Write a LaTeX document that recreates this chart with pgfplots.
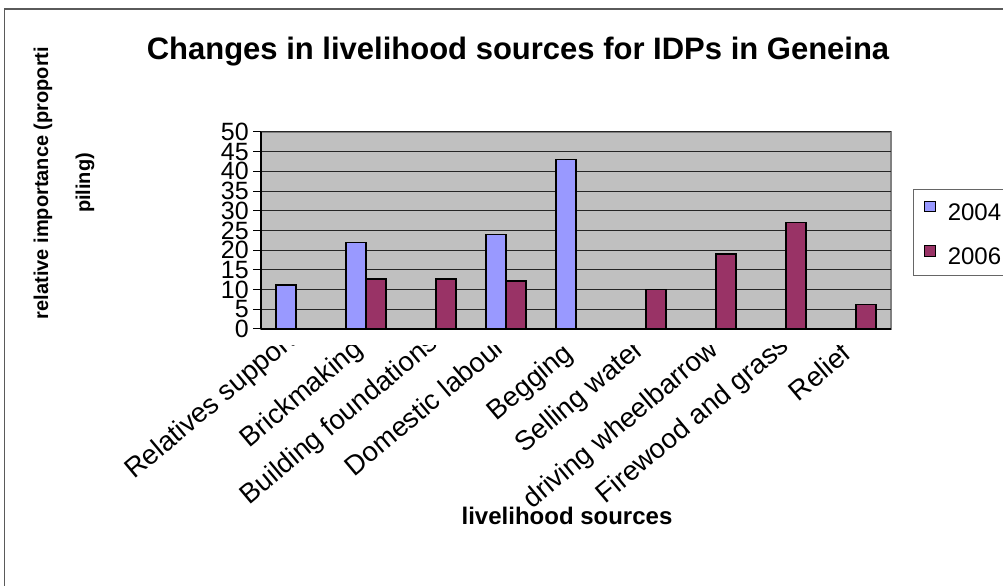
\documentclass[border=0pt]{standalone}
\usepackage{fontspec}
\setmainfont{Liberation Sans}
\usepackage{pgfplots}
\usepackage{pgfplotstable}
\pgfplotsset{compat=1.18}

\definecolor{bar04}{HTML}{9999FF}
\definecolor{bar06}{HTML}{993366}
\definecolor{plotbg}{HTML}{C0C0C0}
\definecolor{framegray}{HTML}{808080}

% category index and value (only the categories that have a bar)
\pgfplotstableread{
idx val
0 11.2
1 22
3 24
4 43
}\dataA
\pgfplotstableread{
idx val
1 12.7
2 12.7
3 12.2
5 10
6 19
7 27
8 6.2
}\dataB

% place a rotated category label: #1 across the baseline, #2 along it
\newcommand\lab[3]{\kern#2\raisebox{#1}{#3}}

\pgfplotsset{
  chartframe/.style={
    at={(261bp,257bp)}, anchor=south west,
    scale only axis, width=630bp, height=197bp,
    xmin=-0.5, xmax=8.5, ymin=0, ymax=50,
    tick align=outside,
    major tick length=8bp, minor tick length=8bp,
  }
}

\begin{document}
\begin{tikzpicture}[x=1bp,y=1bp]
\path[use as bounding box] (0,0) rectangle (1003,586);
\draw[framegray!70!black, line width=1.5bp] (4.5,-5) -- (4.5,577) -- (1010,577);

% category names first, so that the plot area and the band below the axis
% cut off the long ones
\begin{axis}[
  chartframe,
  axis line style={draw=none}, tick style={draw=none},
  ytick=\empty,
  xtick={0,...,8},
  xticklabels={
    \lab{-5.7bp}{-220.2bp}{Relatives support},
    \lab{-10.1bp}{-173bp}{Brickmaking},
    \lab{-8.9bp}{-255.4bp}{Building foundations},
    \lab{-10.2bp}{-214.8bp}{Domestic labour},
    \lab{-13.5bp}{-130.1bp}{Begging},
    \lab{-11.3bp}{-179.3bp}{Selling water},
    \lab{-14.2bp}{-259.9bp}{driving wheelbarrow},
    \lab{-12.1bp}{-251.6bp}{Firewood and grass},
    \lab{-13.2bp}{-102.4bp}{Relief}},
  xticklabel style={font=\fontsize{27.5bp}{27.5bp}\selectfont, inner sep=0pt, anchor=base west, rotate=40},
]
\end{axis}

\fill[white] (261,241) rectangle (940,257);

\begin{axis}[
  chartframe,
  ytick={0,5,...,50},
  xtick=\empty,
  minor xtick={-0.5,0.5,...,8.5},
  axis lines*=left,
  axis line style={black, line width=1.3bp},
  axis background/.style={fill=plotbg, draw=framegray, line width=1.3bp},
  ymajorgrids,
  major grid style={black!85, line width=1bp},
  minor x tick style={black, line width=1bp},
  ytick style={black, line width=1bp},
  /pgf/number format/assume math mode=true,
  yticklabel style={font=\fontsize{25bp}{25bp}\selectfont, inner sep=0pt, anchor=east, xshift=-4bp},
  ybar, bar width=20bp,
  legend image code/.code={\draw[#1, line width=1.2bp] (0bp,0bp) rectangle (11bp,10.5bp);},
  legend style={at={(axis description cs:1.0349,0.7107)}, anchor=north west,
    draw=framegray!80!black, line width=1.2bp, fill=white,
    inner xsep=10bp, inner ysep=11bp, row sep=25bp, column sep=12bp,
    font=\fontsize{24bp}{24bp}\selectfont,
    nodes={inner sep=0pt, text height=17bp, text depth=0bp}},
  legend cell align=left,
]
\addplot[fill=bar04, draw=black, line width=1.5bp, bar shift=-10bp] table[x=idx, y=val] {\dataA};
\addplot[fill=bar06, draw=black, line width=1.5bp, bar shift=10bp] table[x=idx, y=val] {\dataB};
\legend{2004, 2006}
\end{axis}

\node[font=\bfseries\fontsize{31bp}{31bp}\selectfont, anchor=base] at (518,526) {Changes in livelihood sources for IDPs in Geneina};
\node[font=\bfseries\fontsize{24bp}{24bp}\selectfont, anchor=base] at (567,61) {livelihood sources};
\node[font=\bfseries\fontsize{20bp}{42bp}\selectfont, rotate=90, align=center] at (64,403) {relative importance (proporti\\piling)};
\end{tikzpicture}
\end{document}
